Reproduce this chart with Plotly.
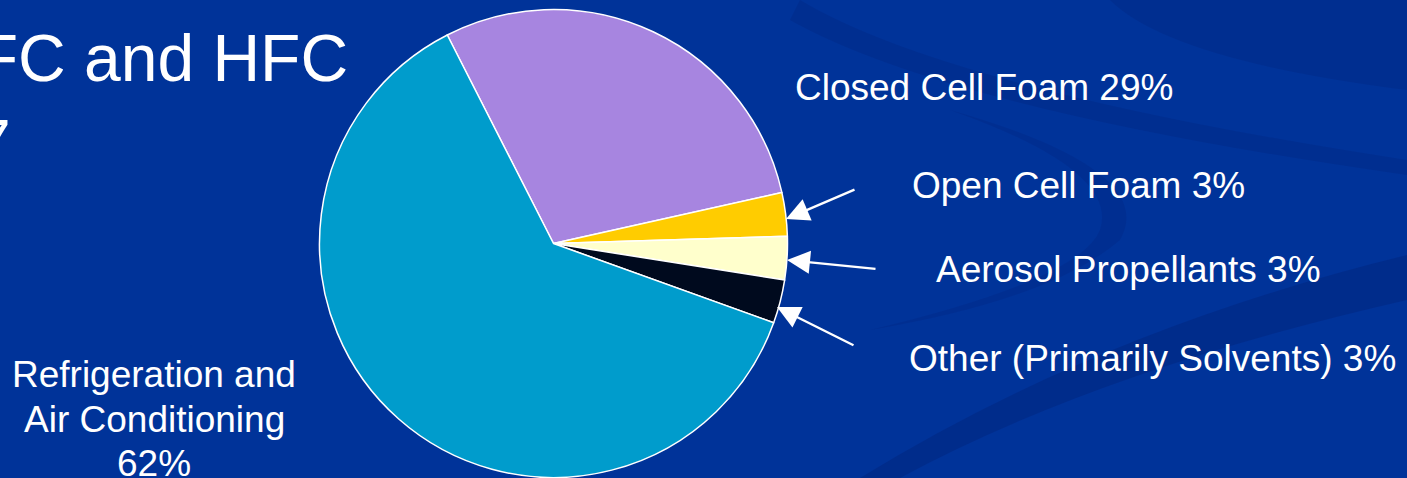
import plotly.graph_objects as go

# ---- data ----
categories = ["Closed Cell Foam", "Open Cell Foam", "Aerosol Propellants",
              "Other (Primarily Solvents)", "Refrigeration and Air Conditioning"]
values = [29, 3, 3, 3, 62]
slice_colors = ["#a785e0", "#ffcc00", "#ffffcc", "#000a1e", "#009ccc"]
label_texts = ["Closed Cell Foam 29%", "Open Cell Foam 3%", "Aerosol Propellants 3%",
               "Other (Primarily Solvents) 3%"]
refrig_lines = ["Refrigeration and", "Air Conditioning", "62%"]
title_lines = ["CFC and HFC", "1987"]

W, H = 1407, 478
BG = "#003399"
FONT = "Liberation Sans, Arial, sans-serif"


def X(px):
    return px / W


def Y(py):
    return 1 - py / H


fig = go.Figure()

# pie centred at (553.5, 243.5) px, radius 234 px
cx, cy, r = 553.5, 243.5, 234
fig.add_trace(go.Pie(
    labels=categories,
    values=values,
    sort=False,
    direction="clockwise",
    rotation=-27,
    marker=dict(colors=slice_colors, line=dict(color="white", width=1.5)),
    textinfo="none",
    hoverinfo="label+percent",
    showlegend=False,
    domain=dict(x=[X(cx - r), X(cx + r)], y=[Y(cy + r), Y(cy - r)]),
))

annotations = []
# title fragments (cut off at the left edge like in the slide)
annotations.append(dict(text=title_lines[0], x=X(350), y=Y(58), xref="paper", yref="paper",
                        xanchor="right", yanchor="middle", showarrow=False,
                        font=dict(family=FONT, size=66, color="white")))
annotations.append(dict(text=title_lines[1], x=X(13), y=Y(143), xref="paper", yref="paper",
                        xanchor="right", yanchor="middle", showarrow=False,
                        font=dict(family=FONT, size=66, color="white")))

# right-hand labels: left x, cap-centre y
label_pos = [(793, 87), (910, 185), (934, 269), (907, 358)]
for t, (lx, ly) in zip(label_texts, label_pos):
    annotations.append(dict(text=t, x=X(lx), y=Y(ly), xref="paper", yref="paper",
                            xanchor="left", yanchor="middle", showarrow=False,
                            font=dict(family=FONT, size=37, color="white")))

# refrigeration label, centred
for t, ly in zip(refrig_lines, [374, 419, 463]):
    annotations.append(dict(text=t, x=X(154), y=Y(ly), xref="paper", yref="paper",
                            xanchor="center", yanchor="middle", showarrow=False,
                            font=dict(family=FONT, size=37, color="white")))

# arrows: (head), (tail)
arrows = [((786, 219), (856, 189)),
          ((787, 260), (877, 269)),
          ((777, 307), (855, 346))]
for (hx, hy), (tx, ty) in arrows:
    annotations.append(dict(text="", x=X(hx), y=Y(hy), xref="paper", yref="paper",
                            ax=tx - hx, ay=ty - hy, axref="pixel", ayref="pixel",
                            showarrow=True, arrowhead=2, arrowsize=2.0, arrowwidth=2.3,
                            arrowcolor="white", standoff=0, startstandoff=0))

# subtle background swirls
shapes = [
    dict(type="path", xref="paper", yref="paper", layer="below", line=dict(width=0),
         fillcolor="rgba(0,30,110,0.3)",
         path=f"M {X(860)},{Y(478)} Q {X(1100)},{Y(330)} {X(1407)},{Y(255)} "
              f"L {X(1407)},{Y(300)} Q {X(1100)},{Y(370)} {X(900)},{Y(478)} Z"),
    dict(type="path", xref="paper", yref="paper", layer="below", line=dict(width=0),
         fillcolor="rgba(0,30,110,0.2)",
         path=f"M {X(800)},{Y(0)} Q {X(950)},{Y(90)} {X(1407)},{Y(160)} "
              f"L {X(1407)},{Y(175)} Q {X(950)},{Y(110)} {X(790)},{Y(20)} Z"),
    dict(type="path", xref="paper", yref="paper", layer="below", line=dict(width=0),
         fillcolor="rgba(0,30,110,0.2)",
         path=f"M {X(1110)},{Y(0)} Q {X(1170)},{Y(60)} {X(1407)},{Y(90)} "
              f"L {X(1407)},{Y(0)} Z"),
    dict(type="path", xref="paper", yref="paper", layer="below", line=dict(width=0),
         fillcolor="rgba(0,30,110,0.18)",
         path=f"M {X(950)},{Y(110)} Q {X(1160)},{Y(170)} {X(1120)},{Y(240)} "
              f"Q {X(1050)},{Y(300)} {X(870)},{Y(330)} "
              f"Q {X(1080)},{Y(280)} {X(1100)},{Y(230)} Q {X(1120)},{Y(170)} {X(950)},{Y(110)} Z"),
]

fig.update_layout(
    width=W, height=H,
    margin=dict(l=0, r=0, t=0, b=0),
    paper_bgcolor=BG,
    plot_bgcolor=BG,
    annotations=annotations,
    shapes=shapes,
)

fig.write_html(
    "out.html",
    config={"displayModeBar": False},
    post_script="document.body.style.margin='0';document.body.style.padding='0';"
                "document.body.style.overflow='hidden';"
                "document.body.style.background='#003399';",
)
